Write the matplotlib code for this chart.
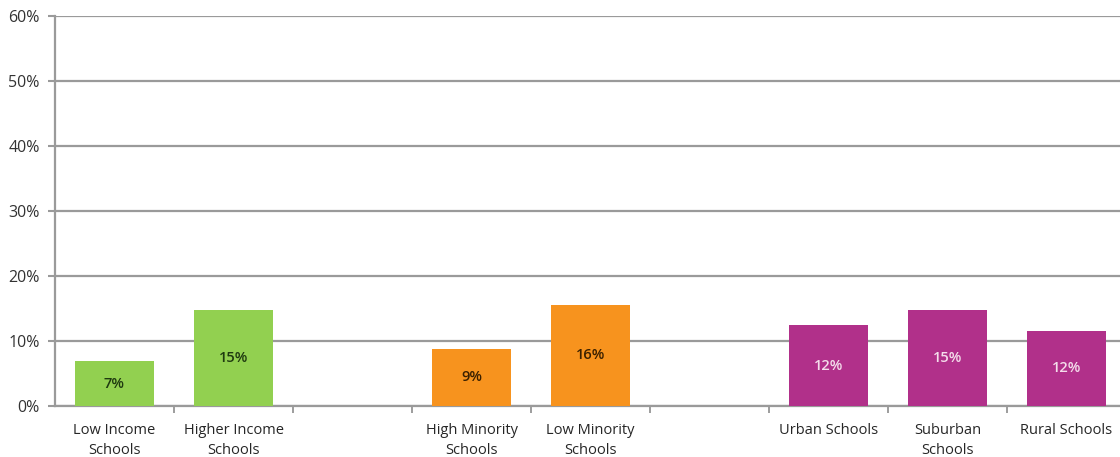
import matplotlib
matplotlib.use("Agg")
import matplotlib.pyplot as plt
from matplotlib.ticker import FuncFormatter, FixedLocator

plt.rcParams['font.family'] = ['Open Sans', 'DejaVu Sans']

groups = ["Income", "Minority", "Locale"]
group_categories = [
    ["Low Income\nSchools", "Higher Income\nSchools"],
    ["High Minority\nSchools", "Low Minority\nSchools"],
    ["Urban Schools", "Suburban\nSchools", "Rural Schools"],
]
group_values = [
    [6.9, 14.7],
    [8.8, 15.6],
    [12.4, 14.8, 11.6],
]
group_labels = [["7%", "15%"], ["9%", "16%"], ["12%", "15%", "12%"]]
group_colors = ["#92D050", "#F7931E", "#B1308A"]
label_colors = ["#1F3A10", "#3A2000", "#F4DDEB"]
yticks = [0, 10, 20, 30, 40, 50, 60]

fig = plt.figure(figsize=(11.2, 4.57), dpi=100)
ax = fig.add_axes([55/1120, 51/457, 1071/1120, 390/457])

pos = 0
positions, cats = [], []
for gi, (cs, vs, ls) in enumerate(zip(group_categories, group_values, group_labels)):
    xs = list(range(pos, pos + len(cs)))
    bars = ax.bar(xs, vs, width=0.66, color=group_colors[gi], zorder=3)
    for b, v, l in zip(bars, vs, ls):
        ax.text(b.get_x() + b.get_width()/2, v/2, l, ha='center', va='center',
                fontsize=10.5, fontweight='semibold', color=label_colors[gi], zorder=4)
    positions += xs
    cats += cs
    pos += len(cs) + 1

ax.set_xlim(-0.5, 8.5)
ax.set_ylim(0, 60)
ax.set_yticks(yticks)
ax.yaxis.set_major_formatter(FuncFormatter(lambda v, p: f"{int(v)}%"))
ax.set_xticks(positions)
ax.set_xticklabels(cats, fontsize=10.5, color="#262626", linespacing=1.45)
ax.xaxis.set_minor_locator(FixedLocator([i + 0.5 for i in range(8)]))
ax.tick_params(axis='x', which='major', length=0, pad=12)
ax.tick_params(axis='x', which='minor', length=5, color="#8c8c8c", width=1.2)
ax.tick_params(axis='y', length=5, color="#9a9a9a", width=1.5, labelsize=11.5, labelcolor="#333333", pad=6)
ax.grid(axis='y', color="#9a9a9a", linewidth=1.6, zorder=0)
for s in ['top', 'right']:
    ax.spines[s].set_visible(False)
for s in ['left', 'bottom']:
    ax.spines[s].set_color("#9a9a9a")
    ax.spines[s].set_linewidth(1.6)

fig.savefig("out.png", dpi=100)
